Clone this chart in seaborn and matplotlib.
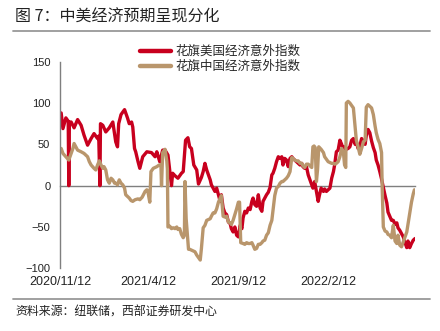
import matplotlib
matplotlib.use("Agg")
import matplotlib.pyplot as plt
from matplotlib.lines import Line2D
import seaborn as sns
import pandas as pd
import numpy as np

# ---------------- data ----------------
start_date = "2020-11-12"
end_day = 605
series_names = ["花旗美国经济意外指数", "花旗中国经济意外指数"]
colors = ["#C8001E", "#B9966C"]

us_day = [2, 5, 10, 14, 15, 16, 19, 24, 30, 36, 41, 47, 53, 58, 64, 66, 68, 69, 73, 78,
          84, 90, 95, 98, 100, 104, 110, 115, 118, 122, 124, 127, 129, 133, 136, 141, 148, 156, 162, 165,
          170, 175, 179, 184, 187, 190, 192, 196, 201, 207, 210, 214, 218, 221, 224, 228, 233, 236, 241, 244,
          247, 250, 253, 256, 258, 261, 264, 267, 270, 273, 275, 278, 281, 284, 287, 290, 292, 295, 298, 301,
          304, 307, 310, 312, 315, 318, 321, 324, 327, 329, 332, 335, 338, 341, 344, 346, 349, 352, 355, 358,
          361, 363, 366, 369, 372, 375, 378, 380, 383, 386, 389, 392, 395, 397, 400, 403, 406, 409, 412, 414,
          417, 420, 423, 426, 429, 431, 434, 437, 440, 442, 445, 449, 451, 454, 457, 460, 463, 466, 468, 471,
          474, 477, 480, 483, 485, 488, 491, 494, 497, 500, 503, 505, 508, 511, 514, 517, 520, 522, 525, 528,
          531, 534, 537, 539, 542, 545, 548, 551, 554, 557, 559, 562, 565, 568, 571, 574, 576, 579, 582, 585,
          588, 591, 593, 596, 599, 602, 605]
us_val = [88, 69, 82, 78, 0, 77, 77, 70, 80, 73, 61, 49, 57, 63, 57, 60, 0, 75, 73, 65,
          70, 77, 53, 47, 75, 86, 92, 82, 75, 77, 71, 45, 41, 29, 21, 35, 41, 40, 35, 41,
          29, 43, 43, 37, 19, 0, 15, 12, 9, 15, 17, 55, 58, 47, 45, 25, 19, 2, 10, 17,
          27, 19, 13, 7, 1, -3, -7, -3, -11, -19, -11, -27, -33, -35, -44, -46, -52, -56, -50, -60,
          -62, -48, -52, -39, -31, -33, -27, -29, -19, -15, -23, -25, -11, -27, -31, -19, -15, -11, -8, -2,
          13, 15, 21, 29, 35, 33, 35, 25, 33, 31, 23, 33, 35, 33, 31, 29, 27, 25, 27, 23,
          21, 23, 13, 7, 1, -3, 5, -7, -19, -12, -3, -7, -4, -7, -5, -3, 9, 17, 25, 41,
          43, 55, 50, 43, 47, 44, 45, 47, 55, 57, 50, 53, 45, 48, 57, 54, 50, 61, 68, 64,
          54, 46, 40, 31, 25, 17, 8, -2, -12, -21, -32, -37, -42, -42, -47, -45, -51, -54, -58, -62,
          -69, -75, -67, -75, -70, -66, -64]

cn_day = [2, 5, 10, 15, 19, 22, 24, 27, 30, 36, 41, 47, 50, 53, 58, 61, 64, 67, 70, 73,
          75, 78, 81, 84, 87, 90, 93, 95, 98, 101, 104, 107, 110, 112, 115, 118, 121, 124, 128, 133,
          136, 140, 145, 148, 150, 153, 155, 159, 165, 169, 172, 173, 175, 179, 182, 183, 184, 187, 190, 193,
          196, 199, 201, 204, 207, 210, 212, 213, 215, 219, 221, 224, 227, 230, 233, 236, 239, 241, 244, 247,
          250, 253, 256, 258, 261, 264, 267, 270, 273, 275, 278, 281, 284, 287, 290, 292, 295, 298, 301, 304,
          306, 308, 312, 315, 318, 321, 324, 327, 329, 332, 335, 338, 341, 344, 346, 349, 352, 355, 358, 361,
          363, 366, 369, 372, 375, 378, 380, 383, 386, 389, 392, 395, 397, 400, 403, 406, 409, 412, 414, 417,
          420, 423, 426, 429, 431, 433, 435, 437, 439, 441, 445, 449, 451, 454, 457, 460, 463, 466, 468, 471,
          474, 477, 480, 483, 485, 487, 488, 491, 494, 497, 500, 503, 505, 508, 511, 514, 517, 520, 522, 525,
          528, 531, 534, 537, 539, 542, 545, 548, 549, 551, 554, 557, 559, 562, 565, 568, 571, 574, 576, 579,
          582, 585, 588, 591, 593, 596, 599, 602, 604]
cn_val = [45, 39, 35, 31, 39, 45, 51, 47, 43, 41, 39, 35, 29, 25, 21, 19, 25, 30, 25, 21,
          23, 19, 7, 3, 9, 7, 3, 3, 1, 7, 3, 1, -3, -11, -13, -15, -18, -19, -17, -16,
          -17, -14, -7, -5, -8, -20, 17, 21, 23, 25, 25, 0, 40, 44, 30, 20, -50, -49, -52, -51,
          -52, -50, -53, -52, -59, -63, -60, 5, -40, -77, -77, -78, -79, -80, -84, -87, -90, -76, -51, -48,
          -42, -41, -40, -37, -33, -33, -28, -20, -15, -12, -37, -38, -37, -44, -45, -47, -42, -35, -28, -20,
          -20, -69, -70, -71, -69, -70, -70, -69, -72, -77, -76, -71, -71, -69, -67, -66, -60, -57, -48, -42,
          -30, -12, -3, -1, 3, 5, 5, 7, 9, 12, 17, 34, 33, 31, 30, 30, 27, 27, 24, 22,
          26, 26, 24, 22, 47, 48, 46, 5, 20, 47, 44, 40, 35, 32, 29, 28, 27, 27, 26, 27,
          29, 35, 45, 40, 25, 22, 100, 102, 100, 97, 94, 70, 55, 47, 38, 45, 53, 55, 95, 98,
          96, 94, 86, 72, 64, 56, 51, 40, 0, -50, -55, -56, -59, -60, -63, -48, -67, -70, -60, -72,
          -74, -68, -62, -56, -47, -34, -20, -10, -5]

tick_dates = ["2020-11-12", "2021-04-12", "2021-09-12", "2022-02-12"]
tick_labels = ["2020/11/12", "2021/4/12", "2021/9/12", "2022/2/12"]
y_ticks = [-100, -50, 0, 50, 100, 150]

title_text = "图 7：中美经济预期呈现分化"
source_text = "资料来源：纽联储，西部证券研发中心"

# ---------------- build frame ----------------
t0 = pd.Timestamp(start_date)
df = pd.concat([
    pd.DataFrame({"date": t0 + pd.to_timedelta(us_day, unit="D"), "value": us_val,
                  "series": series_names[0]}),
    pd.DataFrame({"date": t0 + pd.to_timedelta(cn_day, unit="D"), "value": cn_val,
                  "series": series_names[1]}),
], ignore_index=True)

# ---------------- style ----------------
sns.set_style("white")
plt.rcParams["font.family"] = ["Liberation Sans", "Noto Sans CJK SC", "DejaVu Sans"]
plt.rcParams["axes.unicode_minus"] = True
cjk = ["Noto Sans CJK SC", "DejaVu Sans"]

fig = plt.figure(figsize=(4.4, 3.31), dpi=100)
ax = fig.add_axes([60 / 440, 1 - 268.3 / 331, 355 / 440, (268.3 - 61.7) / 331])

sns.lineplot(data=df, x="date", y="value", hue="series", hue_order=series_names,
             palette=colors, estimator=None, linewidth=2.4, ax=ax, legend=False)

ax.set_xlim(t0, t0 + pd.Timedelta(days=end_day))
ax.set_ylim(-100, 150)
ax.set_yticks(y_ticks)
ax.set_xticks(pd.to_datetime(tick_dates))
ax.set_xticklabels(tick_labels)
ax.set_xlabel("")
ax.set_ylabel("")

for s in ["top", "right"]:
    ax.spines[s].set_visible(False)
ax.spines["left"].set_color("#7f7f7f")
ax.spines["left"].set_linewidth(1.0)
ax.spines["bottom"].set_position(("data", 0))
ax.spines["bottom"].set_color("#7f7f7f")
ax.spines["bottom"].set_linewidth(1.0)
ax.spines["bottom"].set_zorder(0.5)

ax.tick_params(axis="y", direction="in", length=3, color="#7f7f7f", labelsize=8,
               pad=7, labelcolor="#222222")
ax.tick_params(axis="x", direction="in", length=3, color="#7f7f7f", labelsize=9,
               pad=65, labelcolor="#222222")

# legend
handles = [Line2D([0], [0], color=c, lw=3.2) for c in colors]
fig.legend(handles, series_names, loc="upper left",
           bbox_to_anchor=(140 / 440, 1 - 45 / 331), frameon=False,
           prop={"family": cjk, "size": 9}, handlelength=2.5, handletextpad=0.3,
           labelspacing=0.15, borderpad=0, borderaxespad=0)

# title, rules and source
fig.text(15 / 440, 1 - 17 / 331, title_text, fontfamily=cjk, fontsize=11.5,
         va="center", ha="left", color="#222222")
fig.add_artist(Line2D([13 / 440, 430 / 440], [1 - 31 / 331, 1 - 31 / 331],
                      color="#999999", lw=1.3, transform=fig.transFigure))
fig.add_artist(Line2D([13 / 440, 430 / 440], [1 - 299 / 331, 1 - 299 / 331],
                      color="#999999", lw=1.3, transform=fig.transFigure))
fig.text(15 / 440, 1 - 312 / 331, source_text, fontfamily=cjk, fontsize=8.6,
         va="center", ha="left", color="#222222")

fig.savefig("out.png", dpi=100)
